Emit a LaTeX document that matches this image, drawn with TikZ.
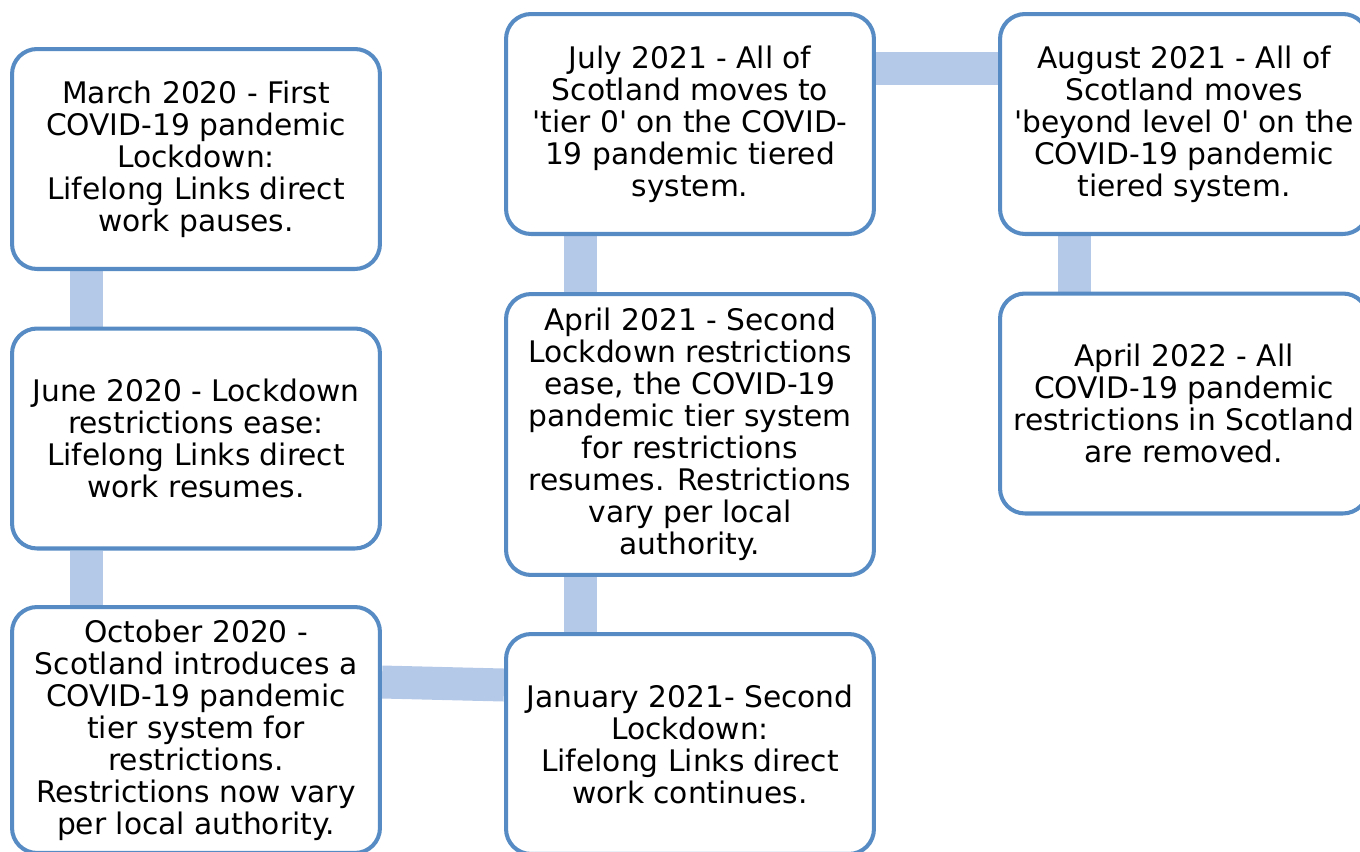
\documentclass[tikz,border=0pt]{standalone}
\usepackage{fontspec}
\setmainfont{DejaVu Sans}
\usetikzlibrary{positioning, backgrounds}
\definecolor{boxblue}{RGB}{86, 140, 195}
\definecolor{linkblue}{RGB}{180, 200, 231}

\begin{document}
\begin{tikzpicture}[
        x=0.02cm, y=-0.02cm,
        box/.style={rectangle, draw=boxblue, fill=white, line width=2.3pt, rounded corners=0.5cm,
            minimum width=7.36cm, minimum height=4.4cm, align=center,
            font=\fontsize{16.9}{18.2}\selectfont},
        link/.style={draw=linkblue, line width=0.66cm}
    ]
        \useasboundingbox (0,0) rectangle (1360,852);
        \clip (0,0) rectangle (1360,852);

        % Column 1: 2020
        \node[box] (mar20) at (196,159) {March 2020 - First\\COVID-19 pandemic\\Lockdown:\\Lifelong Links direct\\work pauses.};
        \node[box] (jun20) at (196,438.5) {June 2020 - Lockdown\\restrictions ease:\\Lifelong Links direct\\work resumes.};
        \node[box, minimum height=4.92cm] (oct20) at (196,730) {October 2020 -\\Scotland introduces a\\COVID-19 pandemic\\tier system for\\restrictions.\\Restrictions now vary\\per local authority.};

        % Column 2: 2021 (bottom to top)
        \node[box] (jan21) at (690,744) {January 2021- Second\\Lockdown:\\Lifelong Links direct\\work continues.};
        \node[box, minimum height=5.62cm] (apr21) at (690,434.5) {April 2021 - Second\\Lockdown restrictions\\ease, the COVID-19\\pandemic tier system\\for restrictions\\resumes. Restrictions\\vary per local\\authority.};
        \node[box] (jul21) at (690,124) {July 2021 - All of\\Scotland moves to\\\textquotesingle tier 0\textquotesingle{} on the COVID-\\19 pandemic tiered\\system.};

        % Column 3: late 2021 and 2022
        \node[box] (aug21) at (1184,124) {August 2021 - All of\\Scotland moves\\\textquotesingle beyond level 0\textquotesingle{} on the\\COVID-19 pandemic\\tiered system.};
        \node[box] (apr22) at (1184,403.5) {April 2022 - All\\COVID-19 pandemic\\restrictions in Scotland\\are removed.};

        % Links behind the boxes
        \begin{scope}[on background layer]
            \draw[link] ([xshift=-2.2cm]mar20.south) -- ([xshift=-2.2cm]jun20.north);
            \draw[link] ([xshift=-2.2cm]jun20.south) -- ([xshift=-2.2cm]oct20.north);
            \draw[link] ([yshift=0.96cm]oct20.east) -- ([yshift=1.18cm]jan21.west);
            \draw[link] ([xshift=-2.2cm]jan21.north) -- ([xshift=-2.2cm]apr21.south);
            \draw[link] ([xshift=-2.2cm]apr21.north) -- ([xshift=-2.2cm]jul21.south);
            \draw[link] ([yshift=1.12cm]jul21.east) -- ([yshift=1.12cm]aug21.west);
            \draw[link] ([xshift=-2.2cm]aug21.south) -- ([xshift=-2.2cm]apr22.north);
        \end{scope}
    \end{tikzpicture}
\end{document}
